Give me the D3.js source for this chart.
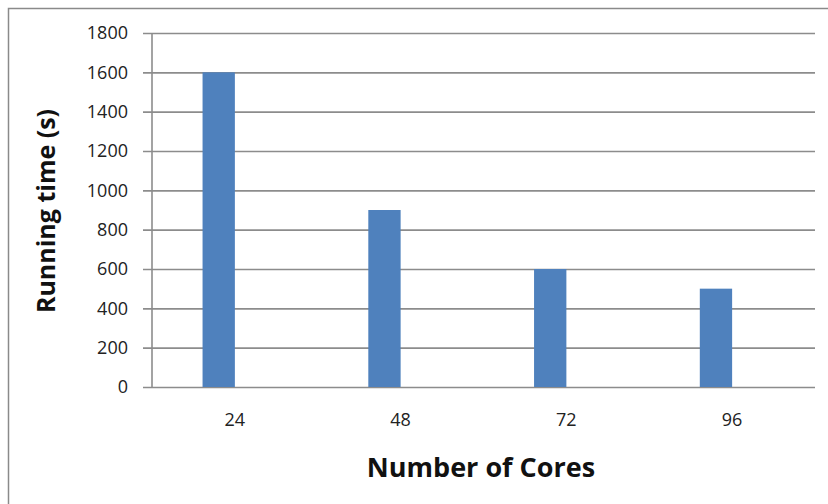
<!DOCTYPE html>
<html>
<head>
<meta charset="utf-8">
<script src="https://cdn.jsdelivr.net/npm/d3@7"></script>
<style>
  html, body { margin: 0; padding: 0; background: #fff; }
  svg { display: block; }
</style>
</head>
<body>
<svg id="chart" width="828" height="504"></svg>
<script>
// Running time per core count
const cores = ["24", "48", "72", "96"];
const runningTime = [1600, 900, 600, 500];
const yTicks = [0, 200, 400, 600, 800, 1000, 1200, 1400, 1600, 1800];

const svg = d3.select("#chart");
const W = 828, H = 504;
const plot = { left: 152, right: 815, top: 33, bottom: 387 };

const font = "'Open Sans', 'Liberation Sans', sans-serif";

// outer chart frame
svg.append("rect")
  .attr("x", 8.5).attr("y", 8.5)
  .attr("width", W + 10).attr("height", H + 10)
  .attr("fill", "#fff")
  .attr("stroke", "#8a8a8a")
  .attr("stroke-width", 1.5);

const x = d3.scaleBand().domain(cores).range([plot.left, plot.right]).padding(0);
const y = d3.scaleLinear().domain([0, 1800]).range([plot.bottom, plot.top]);

// horizontal gridlines + left ticks
const yAxis = d3.axisLeft(y)
  .tickValues(yTicks)
  .tickFormat(d3.format("d"))
  .tickSize(-(plot.right - plot.left))
  .tickSizeOuter(0);

const gy = svg.append("g")
  .attr("transform", `translate(${plot.left},0)`)
  .call(yAxis);
gy.select(".domain").remove();
gy.selectAll(".tick line")
  .attr("x1", -9)
  .attr("stroke", "#8c8c8c")
  .attr("stroke-width", 1.6);
gy.selectAll(".tick text")
  .attr("x", -24)
  .attr("fill", "#222")
  .style("font-family", font)
  .style("font-size", "18px");

// vertical axis line
svg.append("line")
  .attr("x1", plot.left).attr("x2", plot.left)
  .attr("y1", plot.top).attr("y2", plot.bottom)
  .attr("stroke", "#8c8c8c")
  .attr("stroke-width", 1.6);

// bars sit just left of each category centre
const barW = x.bandwidth() * 0.195;
svg.append("g").selectAll("rect")
  .data(cores.map((c, i) => ({ c, v: runningTime[i] })))
  .join("rect")
  .attr("x", d => x(d.c) + x.bandwidth() / 2 - barW)
  .attr("y", d => y(d.v))
  .attr("width", barW)
  .attr("height", d => y(0) - y(d.v))
  .attr("fill", "#4f81bd");

// category labels
const xAxis = d3.axisBottom(x).tickSize(0).tickPadding(26);
const gx = svg.append("g")
  .attr("transform", `translate(0,${plot.bottom})`)
  .call(xAxis);
gx.select(".domain").remove();
gx.selectAll(".tick text")
  .attr("fill", "#222")
  .style("font-family", font)
  .style("font-size", "18px");

// axis titles
svg.append("text")
  .attr("x", 481).attr("y", 477)
  .attr("text-anchor", "middle")
  .attr("fill", "#111")
  .style("font-family", font)
  .style("font-weight", "bold")
  .style("font-size", "27px")
  .text("Number of Cores");

svg.append("text")
  .attr("transform", "translate(55,211) rotate(-90)")
  .attr("text-anchor", "middle")
  .attr("fill", "#111")
  .style("font-family", font)
  .style("font-weight", "bold")
  .style("font-size", "25px")
  .text("Running time (s)");
</script>
</body>
</html>
